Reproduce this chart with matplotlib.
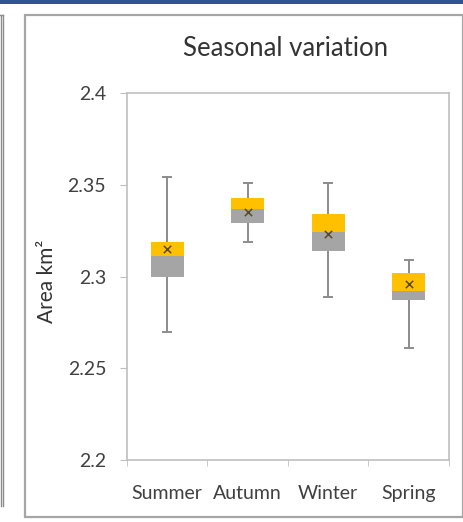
import matplotlib
matplotlib.use("Agg")
import matplotlib.pyplot as plt
from matplotlib.patches import Rectangle
from matplotlib.lines import Line2D

# Seasonal lake-area statistics (km²)
seasons = ["Summer", "Autumn", "Winter", "Spring"]
whisker_low = [2.270, 2.319, 2.289, 2.261]
quartile1 = [2.300, 2.329, 2.314, 2.287]
median = [2.311, 2.337, 2.324, 2.292]
quartile3 = [2.319, 2.343, 2.334, 2.302]
whisker_high = [2.354, 2.351, 2.351, 2.309]
mean = [2.315, 2.335, 2.323, 2.296]

y_ticks = [2.2, 2.25, 2.3, 2.35, 2.4]
y_tick_labels = ["2.2", "2.25", "2.3", "2.35", "2.4"]

W, H = 464, 522
plt.rcParams["font.family"] = ["Lato", "DejaVu Sans"]
fig = plt.figure(figsize=(W / 100, H / 100), dpi=100)

def px(x, y):
    return x / W, 1 - y / H

# header strip and chart frames
fig.add_artist(Rectangle((0, 1 - 3.5 / H), 1, 3.5 / H, transform=fig.transFigure,
                         facecolor="#2F5496", edgecolor="none"))
x0, y0 = px(25, 517)
x1, y1 = px(463, 15)
fig.add_artist(Rectangle((x0, y0), x1 - x0, y1 - y0, transform=fig.transFigure,
                         facecolor="none", edgecolor="#A6A6A6", lw=1.6))
for xx in (1, 3.5):
    fig.add_artist(Line2D([xx / W, xx / W], [1 - 15 / H, 1 - 506 / H],
                          transform=fig.transFigure, color="#8C8C8C", lw=1))
fig.add_artist(Line2D([0, 3.5 / W], [1 - 15 / H, 1 - 15 / H],
                      transform=fig.transFigure, color="#8C8C8C", lw=1))

left, top = px(127, 93)
right, bottom = px(449, 460)
ax = fig.add_axes([left, bottom, right - left, top - bottom])

positions = list(range(1, len(seasons) + 1))
box_w = 0.41

stats = []
for i in range(len(seasons)):
    stats.append({"med": median[i], "q1": quartile1[i], "q3": quartile3[i],
                  "whislo": whisker_low[i], "whishi": whisker_high[i],
                  "fliers": []})
ax.bxp(stats, positions=positions, widths=box_w, showfliers=False,
       showbox=False, capwidths=0.1,
       whiskerprops=dict(color="#8C8C8C", lw=1.4),
       capprops=dict(color="#8C8C8C", lw=1.4),
       medianprops=dict(visible=False), zorder=1)

lower = [m - q for m, q in zip(median, quartile1)]
upper = [q - m for q, m in zip(quartile3, median)]
ax.bar(positions, lower, width=box_w, bottom=quartile1, color="#A5A5A5", zorder=2)
ax.bar(positions, upper, width=box_w, bottom=median, color="#FFC000", zorder=2)
ax.scatter(positions, mean, marker="x", s=28, color="#5A4A2A", lw=1.1, zorder=3)

ax.set_xlim(0.5, len(seasons) + 0.5)
ax.set_ylim(2.2, 2.4)
ax.set_yticks(y_ticks)
ax.set_yticklabels(y_tick_labels)
ax.set_xticks(positions)
ax.set_xticklabels(seasons)
ax.set_xticks([p + 0.5 for p in range(len(seasons) + 1)], minor=True)
ax.tick_params(axis="x", which="major", length=0, pad=18, labelsize=14, labelcolor="#404040")
ax.tick_params(axis="x", which="minor", length=4, color="#BFBFBF", direction="out")
ax.tick_params(axis="y", length=5, color="#BFBFBF", pad=10, labelsize=14, labelcolor="#404040")
for s in ax.spines.values():
    s.set_color("#BFBFBF")
    s.set_linewidth(1.2)

fig.text(*px(286, 48), "Seasonal variation", ha="center", va="center",
         fontsize=18.5, color="#333333")
fig.text(*px(47, 281), "Area km²", ha="center", va="center", rotation=90,
         fontsize=15, color="#333333")

fig.savefig("out.png", dpi=100)
